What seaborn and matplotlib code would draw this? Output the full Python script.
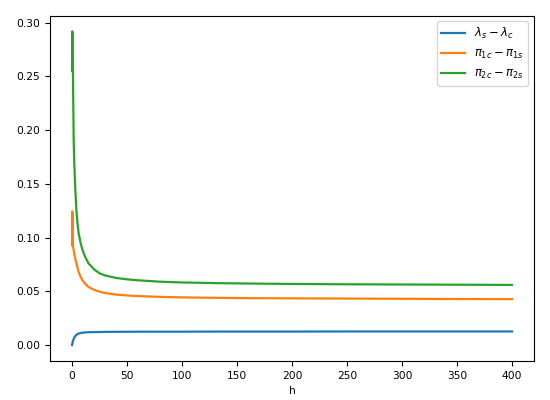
import numpy as np
import pandas as pd
import matplotlib
matplotlib.use("Agg")
import matplotlib.pyplot as plt
import seaborn as sns

# values
h = [0, 0.2, 0.4, 0.6, 0.8, 1, 1.5, 2, 3, 4, 5, 6, 8, 10, 12, 15, 20, 25, 30,
     40, 50, 60, 80, 100, 130, 160, 200, 250, 300, 350, 400]
lam_diff = [0.0, 0.001, 0.002, 0.003, 0.004, 0.0045, 0.0055, 0.007, 0.0085, 0.0095,
            0.0103, 0.0108, 0.0113, 0.0116, 0.0118, 0.012, 0.0121, 0.0122, 0.0123,
            0.0124, 0.0124, 0.0125, 0.0125, 0.0125, 0.0126, 0.0126, 0.0126, 0.0127,
            0.0127, 0.0127, 0.0127]
pi1_diff = [0.093, 0.1245, 0.095, 0.122, 0.094, 0.092, 0.088, 0.085, 0.080, 0.076,
            0.072, 0.068, 0.063, 0.0595, 0.057, 0.054, 0.0515, 0.0497, 0.0485,
            0.047, 0.0462, 0.0456, 0.0449, 0.0444, 0.044, 0.0437, 0.0435, 0.0433,
            0.0431, 0.0429, 0.0428]
pi2_diff = [0.255, 0.292, 0.262, 0.290, 0.258, 0.235, 0.19, 0.17, 0.144, 0.125,
            0.113, 0.104, 0.094, 0.087, 0.082, 0.076, 0.0705, 0.0668, 0.0648,
            0.0625, 0.0612, 0.0603, 0.059, 0.0583, 0.0577, 0.0573, 0.0569, 0.0566,
            0.0564, 0.0562, 0.056]
labels = [r'$\lambda_s - \lambda_c$', r'$\pi_{1c} - \pi_{1s}$', r'$\pi_{2c} - \pi_{2s}$']
colors = ['#1f77b4', '#ff7f0e', '#2ca02c']

plt.rcParams['font.size'] = 7.7
plt.rcParams['font.family'] = ['DejaVu Sans']

df = pd.DataFrame({'h': h, 'lam': lam_diff, 'pi1': pi1_diff, 'pi2': pi2_diff})

fig, ax = plt.subplots(figsize=(5.5, 4), dpi=100)
for col, lab, c in zip(['lam', 'pi1', 'pi2'], labels, colors):
    sns.lineplot(data=df, x='h', y=col, ax=ax, label=lab, color=c, linewidth=1.6)

ax.set_xlabel('h')
ax.set_ylabel('')
ax.set_xticks([0, 50, 100, 150, 200, 250, 300, 350, 400])
ax.set_yticks([0.0, 0.05, 0.10, 0.15, 0.20, 0.25, 0.30])
ax.set_yticklabels(['0.00', '0.05', '0.10', '0.15', '0.20', '0.25', '0.30'])
ax.legend(loc='upper right', fontsize=8.4)

fig.subplots_adjust(left=0.091, right=0.971, bottom=0.098, top=0.961)
fig.savefig('out.png')
